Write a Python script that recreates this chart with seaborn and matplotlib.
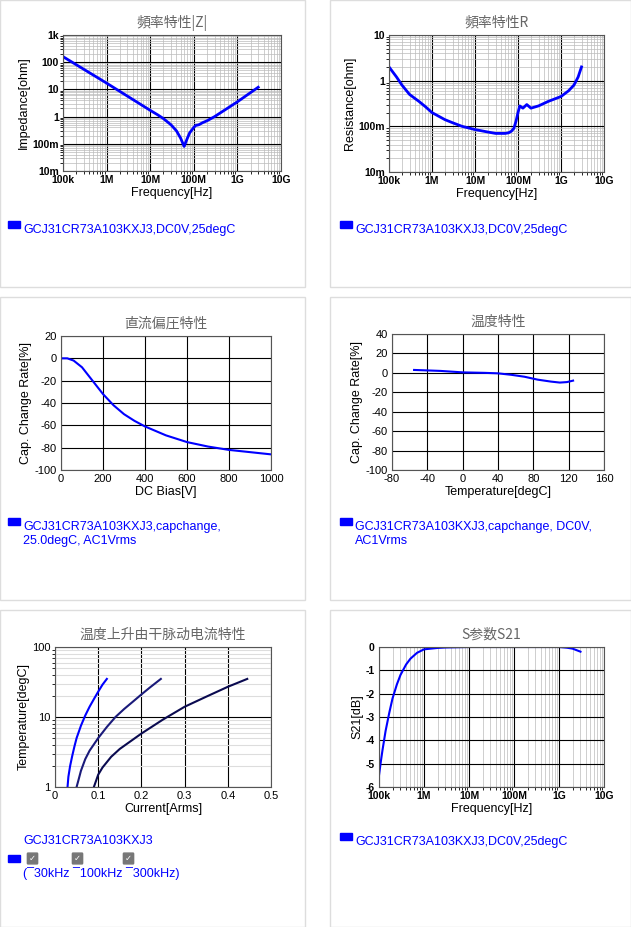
import matplotlib
matplotlib.use("Agg")
import matplotlib.pyplot as plt
import matplotlib.patches as mpatches
from matplotlib.ticker import NullFormatter, LogLocator
import seaborn as sns
import numpy as np

plt.rcParams["font.family"] = "Liberation Sans"
plt.rcParams["axes.unicode_minus"] = False
CJK = "Noto Sans CJK JP"

# data
z_freq = [1e5, 1e6, 1e7, 1.5e7, 2e7, 3e7, 4e7, 5e7, 6e7, 7e7, 8e7, 1e8, 1.1e8, 1.3e8, 1.6e8, 2e8, 3e8, 1e9, 3e9]
z_val = [160, 17, 1.7, 1.15, 0.85, 0.5, 0.3, 0.16, 0.08, 0.15, 0.25, 0.4, 0.47, 0.5, 0.6, 0.7, 1.0, 3.5, 12]
r_freq = [1e5, 1.5e5, 2e5, 3e5, 5e5, 7e5, 1e6, 2e6, 3e6, 5e6, 1e7, 2e7, 3e7, 5e7, 6e7, 7e7, 8e7, 9e7, 1e8,
          1.1e8, 1.3e8, 1.6e8, 2e8, 3e8, 5e8, 1e9, 1.5e9, 2e9, 2.5e9, 3e9]
r_val = [2, 1.2, 0.8, 0.5, 0.35, 0.27, 0.2, 0.14, 0.12, 0.1, 0.085, 0.075, 0.07, 0.07, 0.072, 0.078, 0.09,
         0.13, 0.2, 0.28, 0.25, 0.3, 0.25, 0.28, 0.35, 0.45, 0.6, 0.8, 1.2, 2.0]
dc_v = [0, 30, 60, 100, 150, 200, 250, 300, 350, 400, 500, 600, 700, 800, 900, 1000]
dc_rate = [0, 0, -2, -8, -20, -32, -42, -50, -56, -61, -69, -75, -79, -82, -84, -86]
t_deg = [-55, -25, 0, 25, 40, 55, 70, 85, 100, 110, 118, 125]
t_rate = [3, 2, 0.5, 0, -0.5, -2, -4, -7, -9, -10, -9.5, -8]
rip_30k_i = [0.029, 0.031, 0.035, 0.04, 0.045, 0.05, 0.06, 0.07, 0.08, 0.09, 0.1, 0.11, 0.12]
rip_30k_t = [1, 1.4, 2, 2.8, 3.8, 5, 7.5, 10.5, 14, 18, 23, 29, 35]
rip_100k_i = [0.05, 0.055, 0.06, 0.07, 0.08, 0.1, 0.12, 0.14, 0.16, 0.18, 0.2, 0.22, 0.245]
rip_100k_t = [1, 1.3, 1.7, 2.5, 3.3, 5, 7.2, 10, 13, 16.5, 21, 26.5, 35]
rip_300k_i = [0.09, 0.1, 0.11, 0.13, 0.15, 0.2, 0.25, 0.3, 0.35, 0.4, 0.445]
rip_300k_t = [1, 1.5, 1.9, 2.7, 3.5, 5.8, 9.2, 14, 19.5, 27, 35]
s_freq = [1e5, 1.1e5, 1.2e5, 1.4e5, 1.7e5, 2e5, 2.5e5, 3e5, 4e5, 5e5, 7e5, 1e6, 2e6, 3e6, 1e7, 1e9, 1.5e9, 2e9, 3e9]
s_db = [-5.5, -4.9, -4.4, -3.6, -2.8, -2.2, -1.6, -1.2, -0.75, -0.5, -0.25, -0.1, -0.04, -0.02, 0, 0, -0.03, -0.07, -0.2]

freq_ticks = [1e5, 1e6, 1e7, 1e8, 1e9, 1e10]
freq_labels = ["100k", "1M", "10M", "100M", "1G", "10G"]

W, H = 631, 927
fig = plt.figure(figsize=(W / 100, H / 100), dpi=100)

# card borders
for (x0, y0, x1, y1) in [(0, 0, 305, 287), (330, 0, 631, 287), (0, 297, 305, 600),
                         (330, 297, 631, 600), (0, 610, 305, 927), (330, 610, 631, 927)]:
    fig.patches.append(mpatches.Rectangle((x0 / W, 1 - y1 / H), (x1 - x0) / W, (y1 - y0) / H,
                                          transform=fig.transFigure, fill=False,
                                          edgecolor="#dddddd", lw=1))


def make_ax(x0, y0, x1, y1):
    return fig.add_axes([x0 / W, 1 - y1 / H, (x1 - x0) / W, (y1 - y0) / H])


def style(ax, title, xlabel, ylabel):
    ax.set_title(title, color="#666666", fontsize=10, pad=6, fontfamily=CJK)
    ax.set_xlabel(xlabel, fontsize=9, labelpad=1)
    ax.set_ylabel(ylabel, fontsize=9, labelpad=2)
    ax.tick_params(labelsize=8, length=0, pad=3)
    for s in ax.spines.values():
        s.set_color("#555555")
    ax.grid(True, which="major", color="black", lw=0.8)
    ax.grid(True, which="minor", color="#bbbbbb", lw=0.5)
    ax.set_axisbelow(True)


def bold_ticks(ax):
    for t in ax.get_xticklabels() + ax.get_yticklabels():
        t.set_fontweight("bold")
        t.set_fontsize(7.5)


def legend(x, y, lines):
    fig.patches.append(mpatches.Rectangle((x / W, 1 - (y + 4) / H), 12 / W, 7 / H,
                                          transform=fig.transFigure, color="blue"))
    fig.text((x + 15) / W, 1 - y / H, lines, color="blue", fontsize=9, va="top")


def freq_x(ax):
    ax.set_xscale("log")
    ax.set_xlim(1e5, 1e10)
    ax.set_xticks(freq_ticks)
    ax.set_xticklabels(freq_labels)
    ax.xaxis.set_minor_locator(LogLocator(subs=np.arange(2, 10)))
    ax.xaxis.set_minor_formatter(NullFormatter())


# panel 1
ax = make_ax(63, 35, 281, 171)
sns.lineplot(x=z_freq, y=z_val, ax=ax, color="blue", lw=2, sort=False)
freq_x(ax)
ax.set_yscale("log")
ax.set_ylim(0.01, 1000)
ax.set_yticks([0.01, 0.1, 1, 10, 100, 1000])
ax.set_yticklabels(["10m", "100m", "1", "10", "100", "1k"])
ax.yaxis.set_minor_locator(LogLocator(subs=np.arange(2, 10)))
ax.yaxis.set_minor_formatter(NullFormatter())
style(ax, "頻率特性|Z|", "Frequency[Hz]", "Impedance[ohm]")
bold_ticks(ax)
legend(8, 224, "GCJ31CR73A103KXJ3,DC0V,25degC")

# panel 2
ax = make_ax(389, 35, 604, 172)
sns.lineplot(x=r_freq, y=r_val, ax=ax, color="blue", lw=2, sort=False)
freq_x(ax)
ax.set_yscale("log")
ax.set_ylim(0.01, 10)
ax.set_yticks([0.01, 0.1, 1, 10])
ax.set_yticklabels(["10m", "100m", "1", "10"])
ax.yaxis.set_minor_locator(LogLocator(subs=np.arange(2, 10)))
ax.yaxis.set_minor_formatter(NullFormatter())
style(ax, "頻率特性R", "Frequency[Hz]", "Resistance[ohm]")
bold_ticks(ax)
legend(340, 224, "GCJ31CR73A103KXJ3,DC0V,25degC")

# panel 3
ax = make_ax(61, 336, 271, 470)
sns.lineplot(x=dc_v, y=dc_rate, ax=ax, color="blue", lw=1.5, sort=False)
ax.set_xlim(0, 1000)
ax.set_ylim(-100, 20)
ax.set_xticks(range(0, 1001, 200))
ax.set_yticks(range(-100, 21, 20))
style(ax, "直流偏圧特性", "DC Bias[V]", "Cap. Change Rate[%]")
legend(8, 521, "GCJ31CR73A103KXJ3,capchange,\n25.0degC, AC1Vrms")

# panel 4
ax = make_ax(392, 334, 604, 470)
sns.lineplot(x=t_deg, y=t_rate, ax=ax, color="blue", lw=1.5, sort=False)
ax.set_xlim(-80, 160)
ax.set_ylim(-100, 40)
ax.set_xticks(range(-80, 161, 40))
ax.set_yticks(range(-100, 41, 20))
style(ax, "温度特性", "Temperature[degC]", "Cap. Change Rate[%]")
legend(340, 521, "GCJ31CR73A103KXJ3,capchange, DC0V,\nAC1Vrms")

# panel 5
ax = make_ax(55, 647, 271, 787)
sns.lineplot(x=rip_30k_i, y=rip_30k_t, ax=ax, color="blue", lw=1.5, sort=False)
sns.lineplot(x=rip_100k_i, y=rip_100k_t, ax=ax, color="#1a1a7a", lw=1.5, sort=False)
sns.lineplot(x=rip_300k_i, y=rip_300k_t, ax=ax, color="#0a0a50", lw=1.5, sort=False)
ax.set_xlim(0, 0.5)
ax.set_yscale("log")
ax.set_ylim(1, 100)
ax.set_xticks([0, 0.1, 0.2, 0.3, 0.4, 0.5])
ax.set_xticklabels(["0", "0.1", "0.2", "0.3", "0.4", "0.5"])
ax.set_yticks([1, 10, 100])
ax.set_yticklabels(["1", "10", "100"])
ax.yaxis.set_minor_locator(LogLocator(subs=np.arange(2, 10)))
ax.yaxis.set_minor_formatter(NullFormatter())
style(ax, "温度上升由干脉动电流特性", "Current[Arms]", "Temperature[degC]")
ax.grid(False, which="minor", axis="x")
ax.grid(True, which="minor", axis="y", color="#dddddd", lw=0.8)
fig.text(23 / W, 1 - 835 / H, "GCJ31CR73A103KXJ3", color="blue", fontsize=9, va="top")
fig.patches.append(mpatches.Rectangle((8 / W, 1 - 862 / H), 12 / W, 7 / H,
                                      transform=fig.transFigure, color="blue"))
for cx in [28, 73, 124]:
    fig.patches.append(mpatches.FancyBboxPatch((cx / W, 1 - 863 / H), 9 / W, 9 / H,
                                               boxstyle="round,pad=0.001",
                                               transform=fig.transFigure, color="#777777"))
    fig.text((cx + 4.5) / W, 1 - 858 / H, "✓", color="white", fontsize=6,
             ha="center", va="center", fontfamily="DejaVu Sans")
fig.text(23 / W, 1 - 867 / H, "(¯30kHz ¯100kHz ¯300kHz)", color="blue", fontsize=9, va="top")

# panel 6
ax = make_ax(379, 647, 604, 787)
sns.lineplot(x=s_freq, y=s_db, ax=ax, color="blue", lw=1.5, sort=False)
freq_x(ax)
ax.set_ylim(-6, 0)
ax.set_yticks(range(-6, 1))
style(ax, "S参数S21", "Frequency[Hz]", "S21[dB]")
bold_ticks(ax)
legend(340, 836, "GCJ31CR73A103KXJ3,DC0V,25degC")

fig.savefig("out.png", dpi=100)
